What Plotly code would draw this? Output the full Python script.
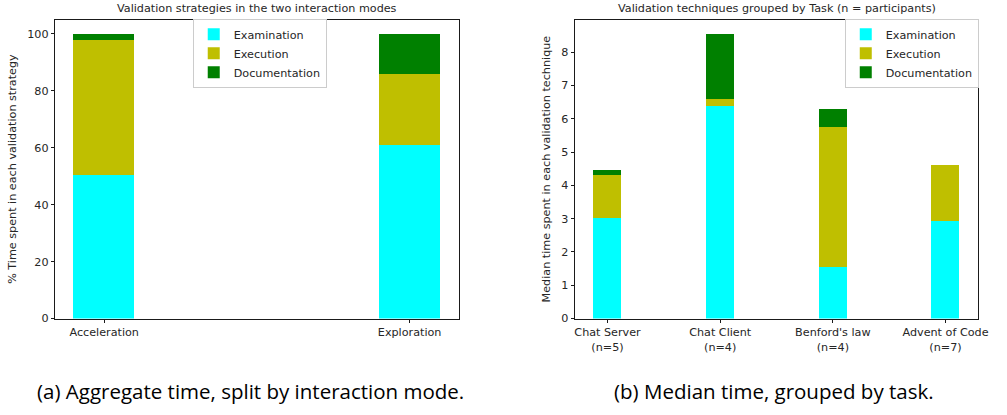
import plotly.graph_objects as go

# ---- data ----
modes = ["Acceleration", "Exploration"]
mode_exam = [50.6, 61.1]
mode_exec = [47.3, 24.8]
mode_doc = [2.1, 14.1]

tasks = ["Chat Server", "Chat Client", "Benford's law", "Advent of Code"]
task_n = [5, 4, 4, 7]
task_exam = [3.04, 6.39, 1.55, 2.95]
task_exec = [1.28, 0.23, 4.21, 1.67]
task_doc = [0.14, 1.94, 0.54, 0.0]

series_names = ["Examination", "Execution", "Documentation"]
colors = ["#00FFFF", "#BFBF00", "#008000"]

task_labels = [f"{t}<br>(n={n})" for t, n in zip(tasks, task_n)]

FONT = "DejaVu Sans"
FS = 11.2
TXT = "#262626"

fig = go.Figure()

for name, vals, col in zip(series_names, [mode_exam, mode_exec, mode_doc], colors):
    fig.add_trace(go.Bar(x=list(range(len(modes))), y=vals, name=name, width=0.2,
                         marker=dict(color=col, line=dict(width=0)),
                         xaxis="x", yaxis="y", legend="legend"))

for name, vals, col in zip(series_names, [task_exam, task_exec, task_doc], colors):
    fig.add_trace(go.Bar(x=list(range(len(tasks))), y=vals, name=name, width=0.25,
                         marker=dict(color=col, line=dict(width=0)),
                         xaxis="x2", yaxis="y2", legend="legend2"))

axis_common = dict(showline=True, linecolor="#1a1a1a", linewidth=1, mirror=True,
                   ticks="outside", ticklen=3.5, tickcolor="#1a1a1a", tickwidth=1,
                   showgrid=False, zeroline=False,
                   tickfont=dict(family=FONT, size=FS, color=TXT))

legend_common = dict(bgcolor="rgba(255,255,255,0.8)", bordercolor="#cccccc", borderwidth=1,
                     font=dict(family=FONT, size=FS, color=TXT), traceorder="normal",
                     xanchor="left", yanchor="top", tracegroupgap=0)

fig.update_layout(
    width=1007, height=415,
    margin=dict(l=0, r=0, t=0, b=0),
    paper_bgcolor="white", plot_bgcolor="white",
    barmode="stack", bargap=0,
    font=dict(family=FONT, size=FS, color=TXT),
    xaxis=dict(domain=[0.0546, 0.4598], range=[-0.16, 1.16], anchor="y",
               tickvals=list(range(len(modes))), ticktext=modes, **axis_common),
    yaxis=dict(domain=[0.2193, 0.9518], range=[0, 105], tickvals=[0, 20, 40, 60, 80, 100],
               anchor="x",
               title=dict(text="% Time spent in each validation strategy",
                          font=dict(family=FONT, size=FS, color=TXT), standoff=8),
               **axis_common),
    xaxis2=dict(domain=[0.577, 0.9818], range=[-0.2875, 3.2875], anchor="y2",
                tickvals=list(range(len(tasks))), ticktext=task_labels, **axis_common),
    yaxis2=dict(domain=[0.2193, 0.9518], range=[0, 8.98], tickvals=list(range(0, 9)),
                anchor="x2",
                title=dict(text="Median time spent in each validation technique",
                           font=dict(family=FONT, size=FS, color=TXT), standoff=8),
                **axis_common),
    legend=dict(x=0.1927, y=(415 - 19) / 415, **legend_common),
    legend2=dict(x=0.848, y=(415 - 19) / 415, **legend_common),
    annotations=[
        dict(text="Validation strategies in the two interaction modes", xref="paper", yref="paper",
             x=0.257, y=(415 - 9) / 415, showarrow=False, yanchor="middle", xanchor="center",
             font=dict(family=FONT, size=FS, color=TXT)),
        dict(text="Validation techniques grouped by Task (n = participants)", xref="paper", yref="paper",
             x=0.7794, y=(415 - 9) / 415, showarrow=False, yanchor="middle", xanchor="center",
             font=dict(family=FONT, size=FS, color=TXT)),
        dict(text="(a) Aggregate time, split by interaction mode.", xref="paper", yref="paper",
             x=0.2507, y=(415 - 398) / 415, showarrow=False, yanchor="middle", xanchor="center",
             font=dict(family="Open Sans", size=20.5, color="black")),
        dict(text="(b) Median time, grouped by task.", xref="paper", yref="paper",
             x=0.7765, y=(415 - 398) / 415, showarrow=False, yanchor="middle", xanchor="center",
             font=dict(family="Open Sans", size=20.5, color="black")),
    ],
)

fig.write_html("out.html", config={"displayModeBar": False},
               post_script="document.body.style.margin='0';")
